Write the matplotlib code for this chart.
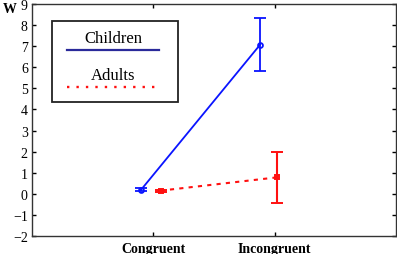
import matplotlib
matplotlib.use("Agg")
import matplotlib.pyplot as plt
from matplotlib.patches import Rectangle
from matplotlib.lines import Line2D

conditions = ["Congruent", "Incongruent"]
children_x = [0.9, 1.88]
children_mean = [0.2, 7.07]
children_err = [0.07, 1.25]
adults_x = [1.06, 2.02]
adults_mean = [0.15, 0.78]
adults_err = [0.05, 1.2]

plt.rcParams["font.family"] = ["Liberation Serif", "DejaVu Serif"]

fig = plt.figure(figsize=(3.97, 2.55), dpi=100)
ax = fig.add_axes([0.0806, 0.0706, 0.917, 0.91])

ax.errorbar(children_x, children_mean, yerr=children_err, color="#0a14ff",
            lw=1.3, marker="o", ms=3.5, mfc="none", mew=1.3, capsize=4.5, capthick=1.3)
ax.errorbar(adults_x, adults_mean, yerr=adults_err, color="#ff1010",
            lw=1.5, ls=(0, (2, 2.5)), marker="s", ms=3.5, mfc="none", mew=1.4,
            capsize=4.5, capthick=1.4)

ax.set_xlim(0, 3)
ax.set_ylim(-2, 9)
ax.set_xticks([1, 2])
ax.set_xticklabels(conditions, fontweight="bold", fontsize=9)
ax.set_yticks(range(-2, 10))
ax.tick_params(direction="in", length=3, width=1, labelsize=10,
               top=True, right=True, pad=3)
ax.tick_params(axis="x", pad=4)
for s in ax.spines.values():
    s.set_linewidth(1.0)
    s.set_color("#333333")

fig.text(0.008, 0.95, "W", fontweight="bold", fontsize=10)

# legend box drawn by hand
ax.add_patch(Rectangle((0.055, 0.578), 0.345, 0.349, transform=ax.transAxes,
                       fill=False, ec="#222222", lw=1.3))
ax.text(0.223, 0.853, "Children", transform=ax.transAxes, ha="center",
        va="center", fontsize=12)
ax.add_line(Line2D([0.096, 0.349], [0.803, 0.803], transform=ax.transAxes,
                   color="#2a2a9a", lw=1.6))
ax.text(0.223, 0.694, "Adults", transform=ax.transAxes, ha="center",
        va="center", fontsize=12)
ax.add_line(Line2D([0.096, 0.343], [0.644, 0.644], transform=ax.transAxes,
                   color="#ff1010", lw=1.7, ls=(0, (1, 3))))

fig.savefig("out.png", dpi=100)
